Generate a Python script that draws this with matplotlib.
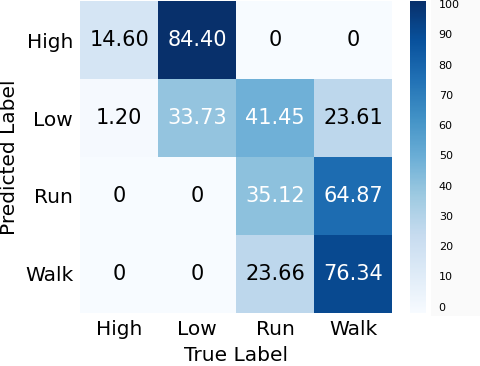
import matplotlib
matplotlib.use("Agg")
import matplotlib.pyplot as plt
from matplotlib.patches import Rectangle
import numpy as np

pred_labels = ["High", "Low", "Run", "Walk"]
true_labels = ["High", "Low", "Run", "Walk"]
values = np.array([
    [14.60, 84.40, 0, 0],
    [1.20, 33.73, 41.45, 23.61],
    [0, 0, 35.12, 64.87],
    [0, 0, 23.66, 76.34],
])
cbar_labels = ["0", "10", "20", "30", "40", "50", "60", "70", "80", "90", "100"]

fig = plt.figure(figsize=(4.8, 3.66), dpi=100)
# faint background panel behind colorbar labels
fig.patches.append(Rectangle((0.898, 0.137), 0.102, 0.863, transform=fig.transFigure,
                             facecolor="#fafafa", edgecolor="none", zorder=-5))
ax = fig.add_axes([0.167, 0.145, 0.650, 0.852])
cax = fig.add_axes([0.854, 0.145, 0.034, 0.852])

vmax = values.max()
mesh = ax.pcolormesh(values, cmap="Blues", vmin=0, vmax=vmax)
ax.set_xlim(0, 4)
ax.set_ylim(4, 0)
for s in ax.spines.values():
    s.set_visible(False)
ax.set_xticks(np.arange(4) + 0.5)
ax.set_xticklabels(true_labels, fontsize=14.5)
ax.set_yticks(np.arange(4) + 0.5)
ax.set_yticklabels(pred_labels, fontsize=14.5)
ax.tick_params(length=0, pad=5)
ax.set_xlabel("True Label", fontsize=14.5, labelpad=5)
ax.set_ylabel("Predicted Label", fontsize=14.5, labelpad=4)

for i in range(4):
    for j in range(4):
        v = values[i, j]
        txt = "0" if v == 0 else f"{v:.2f}"
        color = "white" if v > 30 else "black"
        ax.text(j + 0.5, i + 0.5, txt, ha="center", va="center",
                fontsize=15, color=color)

cb = fig.colorbar(mesh, cax=cax)
tick_pos = np.linspace(0.02 * vmax, 0.99 * vmax, len(cbar_labels))
cb.set_ticks(tick_pos)
cb.set_ticklabels(cbar_labels)
cb.outline.set_visible(False)
cb.ax.tick_params(labelsize=8, length=0, pad=9)

fig.savefig("out.png", dpi=100)
